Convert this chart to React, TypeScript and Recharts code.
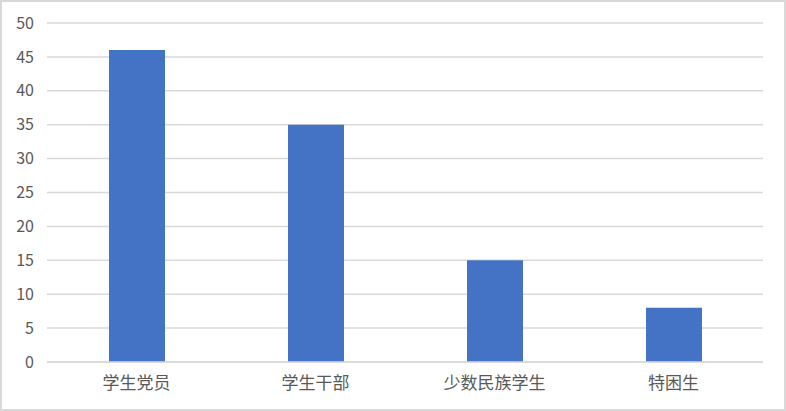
import { BarChart, Bar, XAxis, YAxis, CartesianGrid } from "recharts";

const CATEGORIES = ["学生党员", "学生干部", "少数民族学生", "特困生"];
const COUNTS = [46, 35, 15, 8];
const Y_TICKS = [0, 5, 10, 15, 20, 25, 30, 35, 40, 45, 50];

const GRID_COLOR = "#d9d9d9";
const TEXT_COLOR = "#595959";
const BAR_COLOR = "#4472C4";
const FONT = '"Noto Sans CJK SC", "Noto Sans", sans-serif';

export default function App() {
  const data = CATEGORIES.map((name, i) => ({ name, value: COUNTS[i] }));

  return (
    <div
      style={{
        position: "absolute",
        left: 0,
        top: 0,
        width: 786,
        height: 411,
        background: "#fff",
        fontFamily: FONT,
      }}
    >
      <BarChart
        width={786}
        height={411}
        data={data}
        margin={{ top: 23, right: 23, left: 0, bottom: 0 }}
      >
        <CartesianGrid vertical={false} stroke={GRID_COLOR} strokeWidth={1.5} />
        <XAxis
          dataKey="name"
          height={49}
          tickLine={false}
          axisLine={{ stroke: GRID_COLOR, strokeWidth: 1.5 }}
          tickMargin={9}
          tick={{ fontSize: 17, fill: TEXT_COLOR, fontFamily: FONT }}
          interval={0}
        />
        <YAxis
          width={47}
          domain={[0, 50]}
          ticks={Y_TICKS}
          interval={0}
          tickLine={false}
          axisLine={false}
          tickMargin={7}
          tick={{ fontSize: 16, fill: TEXT_COLOR, fontFamily: FONT }}
        />
        <Bar dataKey="value" fill={BAR_COLOR} barSize={56} isAnimationActive={false} />
      </BarChart>
      {/* chart frame */}
      <div
        style={{
          position: "absolute",
          left: 0,
          top: 0,
          width: 786,
          height: 411,
          boxSizing: "border-box",
          border: `2px solid ${GRID_COLOR}`,
          pointerEvents: "none",
        }}
      />
    </div>
  );
}
